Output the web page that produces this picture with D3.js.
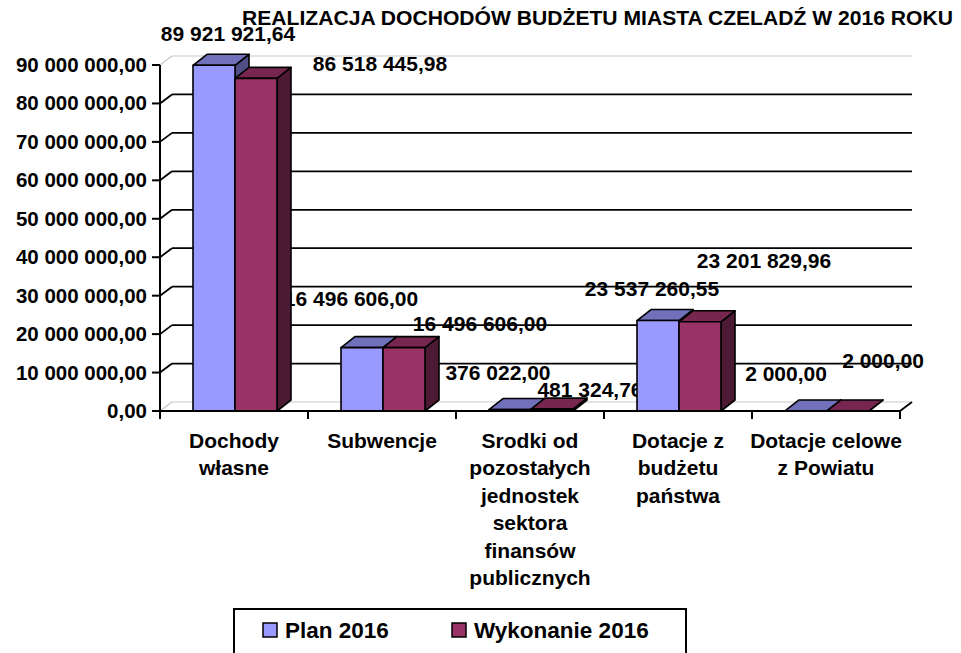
<!DOCTYPE html>
<html>
<head>
<meta charset="utf-8">
<script src="https://cdn.jsdelivr.net/npm/d3@7"></script>
<style>
  body { margin: 0; background: #fff; }
  text { font-family: "Liberation Sans", Arial, sans-serif; font-weight: bold; fill: #000; }
</style>
</head>
<body>
<svg id="chart" width="961" height="653"></svg>
<script>
const title = 'REALIZACJA DOCHODÓW BUDŻETU MIASTA CZELADŹ W 2016 ROKU';
const categories = [
    ['Dochody', 'własne'],
    ['Subwencje'],
    ['Srodki od', 'pozostałych', 'jednostek', 'sektora', 'finansów', 'publicznych'],
    ['Dotacje z', 'budżetu', 'państwa'],
    ['Dotacje celowe', 'z Powiatu']
];
const seriesNames = ['Plan 2016', 'Wykonanie 2016'];
const plan = [89921921.64, 16496606.00, 376022.00, 23537260.55, 2000.00];
const wykonanie = [86518445.98, 16496606.00, 481324.76, 23201829.96, 2000.00];
const yTicks = [0, 10e6, 20e6, 30e6, 40e6, 50e6, 60e6, 70e6, 80e6, 90e6];

// label nudges [dx, dy] from the top-centre of each bar, as in the original file
const planShift = [[14, -24], [-11, -42], [-12, -30], [-6, -25], [-20, -30]];
const wykShift = [[124, -7], [76, -17], [38, -12], [64, -54], [35, -43]];

const colors = {
    plan: {front: '#9999ff', top: '#7070bb', side: '#4f4f85'},
    wyk: {front: '#993366', top: '#77264f', side: '#4d1a33'}
};

const pl = d3.formatLocale({decimal: ',', thousands: ' ', grouping: [3], currency: ['', '']});
const fmt = pl.format(',.2f');

let svg = d3.select('#chart');
svg.append('rect').attr('width', 961).attr('height', 653).attr('fill', '#fff');

const x0 = 160, x1 = 900, yBase = 411, yTop = 65;
const wall = {dx: 12, dy: -9};
const depth = {dx: 14, dy: -11};

let y = d3.scaleLinear().domain([0, 90e6]).range([yBase, yTop]);
let x = d3.scaleBand().domain(d3.range(categories.length)).range([x0, x1]);
let xs = d3.scaleBand().domain(['plan', 'wyk']).range([33, 117]);

// title
svg.append('text')
    .attr('x', 242).attr('y', 25)
    .attr('font-size', 21)
    .attr('textLength', 711).attr('lengthAdjust', 'spacingAndGlyphs')
    .text(title);

// back wall gridlines + diagonals
let grid = svg.append('g');
yTicks.forEach(t => {
    let edge = (t === 0 || t === 90e6);
    let c = edge ? '#c8c8c8' : '#000';
    grid.append('line')
        .attr('x1', x0 + wall.dx).attr('x2', x1 + wall.dx)
        .attr('y1', y(t) + wall.dy).attr('y2', y(t) + wall.dy)
        .style('stroke', c).style('stroke-width', edge ? 1.2 : 1.8);
    grid.append('line')
        .attr('x1', x0).attr('y1', y(t))
        .attr('x2', x0 + wall.dx).attr('y2', y(t) + wall.dy)
        .style('stroke', c).style('stroke-width', edge ? 1.2 : 1.8);
});
grid.append('line')
    .attr('x1', x1).attr('y1', yBase)
    .attr('x2', x1 + wall.dx).attr('y2', yBase + wall.dy)
    .style('stroke', '#000').style('stroke-width', 1.8);

// data labels (sit behind the bars)
let labels = svg.append('g').attr('font-size', 21).attr('text-anchor', 'middle');
function addLabels(vals, key, shift) {
    labels.selectAll(null)
        .data(vals)
        .enter()
        .append('text')
        .attr('x', (d, i) => x(i) + xs(key) + xs.bandwidth() / 2 + shift[i][0])
        .attr('y', (d, i) => y(d) + shift[i][1])
        .text(d => fmt(d));
}
addLabels(plan, 'plan', planShift);
addLabels(wykonanie, 'wyk', wykShift);

// 3d bars
let bars = svg.append('g')
    .style('stroke', '#000').style('stroke-width', 1.6).style('stroke-linejoin', 'round');

function bar(i, v, key) {
    let a = x(i) + xs(key), b = a + xs.bandwidth();
    let t = y(v), dx = depth.dx, dy = depth.dy;
    let c = colors[key];
    bars.append('path')
        .attr('d', `M${b},${t}L${b + dx},${t + dy}L${b + dx},${yBase + dy}L${b},${yBase}Z`)
        .attr('fill', c.side);
    bars.append('path')
        .attr('d', `M${a},${t}L${a + dx},${t + dy}L${b + dx},${t + dy}L${b},${t}Z`)
        .attr('fill', c.top);
    bars.append('path')
        .attr('d', `M${a},${t}L${b},${t}L${b},${yBase}L${a},${yBase}Z`)
        .attr('fill', c.front);
}
categories.forEach((c, i) => {
    bar(i, plan[i], 'plan');
    bar(i, wykonanie[i], 'wyk');
});

// front axes
let axes = svg.append('g').style('stroke', '#000').style('stroke-width', 2);
axes.append('line').attr('x1', x0).attr('x2', x0).attr('y1', yTop).attr('y2', yBase + 8);
axes.append('line').attr('x1', x0).attr('x2', x1).attr('y1', yBase).attr('y2', yBase);
yTicks.forEach(t => {
    axes.append('line').attr('x1', x0 - 8).attr('x2', x0).attr('y1', y(t)).attr('y2', y(t));
});
d3.range(categories.length + 1).forEach(i => {
    let xx = i < categories.length ? x(i) : x1;
    axes.append('line').attr('x1', xx).attr('x2', xx).attr('y1', yBase).attr('y2', yBase + 8);
});

svg.append('g').attr('font-size', 20.5).attr('text-anchor', 'end')
    .selectAll('text')
    .data(yTicks)
    .enter()
    .append('text')
    .attr('x', x0 - 13)
    .attr('y', t => y(t) + 7)
    .text(t => fmt(t));

// category labels
let cat = svg.append('g').attr('font-size', 21).attr('text-anchor', 'middle');
categories.forEach((lines, i) => {
    let tx = cat.append('text').attr('x', x(i) + x.bandwidth() / 2).attr('y', 448);
    lines.forEach((l, k) => {
        tx.append('tspan').attr('x', x(i) + x.bandwidth() / 2).attr('dy', k === 0 ? 0 : 27.4).text(l);
    });
});

// legend
let legend = svg.append('g');
legend.append('rect')
    .attr('x', 234).attr('y', 609).attr('width', 452).attr('height', 60)
    .attr('fill', '#fff').style('stroke', '#000').style('stroke-width', 2);
const legendX = [263, 452];
seriesNames.forEach((name, i) => {
    let key = i === 0 ? 'plan' : 'wyk';
    legend.append('rect')
        .attr('x', legendX[i]).attr('y', 623).attr('width', 14).attr('height', 14)
        .attr('fill', colors[key].front).style('stroke', '#000').style('stroke-width', 1.5);
    legend.append('text')
        .attr('x', legendX[i] + 22).attr('y', 638)
        .attr('font-size', 22.5)
        .text(name);
});
</script>
</body>
</html>
